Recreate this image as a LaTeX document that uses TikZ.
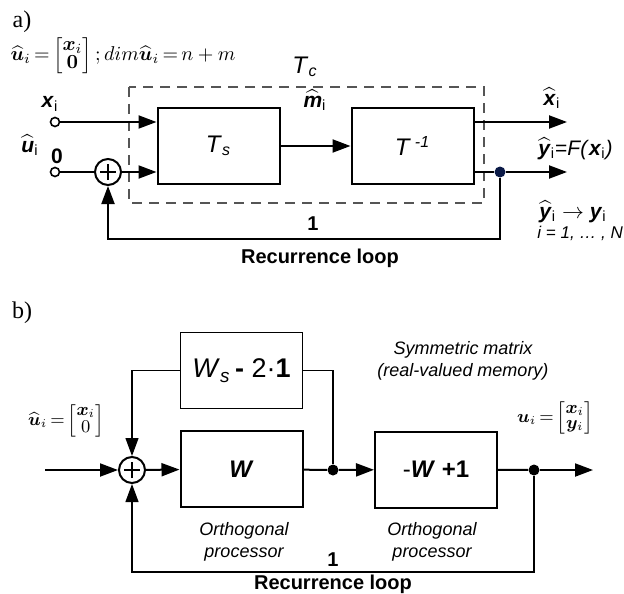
\documentclass[tikz,border=0pt]{standalone}
\usepackage{amsmath}
\usepackage{bm}
\usepackage[no-math]{fontspec}
\setmainfont{Liberation Sans}
\newfontfamily\captserif{Liberation Serif}
\usetikzlibrary{arrows.meta}
\definecolor{dotnavy}{RGB}{10,25,70}
\definecolor{dashgray}{RGB}{85,85,85}

\newcommand{\bvar}[1]{\textbf{\textit{#1}}}
\newcommand{\hvar}[1]{$\widehat{\text{\bvar{#1}}}$}

\tikzset{
    block/.style={draw, line width=1pt, inner sep=0pt,
        minimum width=61pt, minimum height=38pt,
        font=\fontsize{12}{14}\selectfont},
    sumnode/.style={circle, draw, line width=1pt, fill=white,
        minimum size=13pt, inner sep=0pt,
        path picture={
            \draw[line width=1.1pt]
                ([xshift=-4pt]path picture bounding box.center) --
                ([xshift=4pt]path picture bounding box.center)
                ([yshift=-4pt]path picture bounding box.center) --
                ([yshift=4pt]path picture bounding box.center);
        }},
    port/.style={circle, draw, line width=0.8pt, fill=white,
        minimum size=4.5pt, inner sep=0pt},
    junction/.style={circle, fill, minimum size=5.5pt, inner sep=0pt},
    wire/.style={line width=1pt},
    thinwire/.style={line width=0.6pt},
    arrow/.style={-{Triangle[length=9pt,width=6.5pt]}},
    varlbl/.style={font=\fontsize{10.5}{12}\selectfont, inner sep=0pt},
    formula/.style={inner sep=0pt,
        execute at begin node={\renewcommand{\arraystretch}{0.75}%
            \thickmuskip=3mu plus 1mu\arraycolsep=2pt}},
    note/.style={font=\fontsize{9}{11}\selectfont\itshape, align=center,
        inner sep=0pt},
    capt/.style={font=\captserif\fontsize{12}{14}\selectfont, inner sep=0pt}
}

\begin{document}
\begin{tikzpicture}[
    x=0.5pt,
    y=-0.5pt,
    line cap=butt,
    every node/.style={font=\fontsize{10}{12}\selectfont}
]
\useasboundingbox (0,0) rectangle (624,593);

% ---------------- a) ----------------
\node[capt] (capa) at (22,22) {a)};
\node[formula, font=\fontsize{10}{12}\selectfont] (uforma) at (123,56)
    {$\widehat{\bm u}_i = \begin{bmatrix}\bm x_i\\ \bm 0\end{bmatrix};
      dim\widehat{\bm u}_i = n+m$};

% Dashed frame of T_c
\draw[dashgray, line width=0.7pt, dash pattern=on 5pt off 3.5pt]
      (129,87) rectangle (484,203);
\node[varlbl, font=\fontsize{12}{14}\selectfont] (tc) at (305,67)
      {\textit{T}\textsubscript{\textit{c}}};

% Blocks
\node[block] (ts)   at (218.5,146) {\textit{T}\textsubscript{\textit{s}}};
\node[block] (tinv) at (412.5,146) {\textit{T}\,\textsuperscript{\textit{-1}}};

% Ports, summer and junction
\node[port]    (inx)    at (55,122)  {};
\node[port]    (inzero) at (55,172)  {};
\node[sumnode] (suma)   at (108,172) {};
\node[junction, fill=dotnavy] (dota) at (500,172) {};
\coordinate (outx) at (567,122);
\coordinate (outy) at (567,172);

% Connectors
\draw[wire,arrow] (inx) -- (inx -| ts.west);
\draw[wire] (inzero) -- (suma);
\draw[wire,arrow] (suma) -- (suma -| ts.west);
\draw[wire,arrow] (ts) -- (tinv);
\draw[wire,arrow] (tinv.east |- outx) -- (outx);
\draw[wire] (tinv.east |- dota) -- (dota);
\draw[wire,arrow] (dota) -- (outy);
\draw[wire,arrow] (dota) -- ++(0,67) -| (suma);

% Signal labels
\node[varlbl] (lxa)   at (50,104)  {\bvar{x}\textsubscript{i}};
\node[varlbl] (lua)   at (30,145)  {\hvar{u}\textsubscript{i}};
\node[varlbl] (lzero) at (57,156)  {\textbf{0}};
\node[varlbl] (lma)   at (315,100) {\hvar{m}\textsubscript{i}};
\node[varlbl] (lxo)   at (552,98)  {\hvar{x}\textsubscript{i}};
\node[varlbl, anchor=west] (lyo) at (538,149)
      {\hvar{y}\textsubscript{i}=\textit{F(}\bvar{x}\textsubscript{i}\textit{)}};
\node[varlbl, anchor=west] (lyy) at (539,212)
      {\hvar{y}\textsubscript{i} $\rightarrow$ \bvar{y}\textsubscript{i}};
\node[varlbl, anchor=west, font=\fontsize{8.5}{10}\selectfont\itshape] (lidx)
      at (537,233) {i = 1, … , N};

% Loop labels
\node[inner sep=0pt] (onea)  at (313,224) {\textbf{1}};
\node[inner sep=0pt] (loopa) at (320,258) {\textbf{Recurrence loop}};

% ---------------- b) ----------------
\node[capt] (capb) at (22,313) {b)};
\node[formula, font=\fontsize{8.8}{10}\selectfont] (uformb) at (66,421)
    {$\widehat{\bm u}_i = \begin{bmatrix}\bm x_i\\ 0\end{bmatrix}$};

% Blocks
\node[block, line width=0.9pt, font=\fontsize{13.5}{15}\selectfont] (ws)
      at (241.5,370.5) {\textit{W}\textsubscript{\textit{s}}\,\textbf{-} 2·\textbf{1}};
\node[block] (w)    at (241.5,469) {\bvar{W}};
\node[block] (wneg) at (436,469.5) {-\bvar{W} \textbf{+1}};

% Summer and junctions
\coordinate (inb) at (45,470);
\node[sumnode]  (sumb)  at (132,470) {};
\node[junction] (dotb)  at (333,470) {};
\node[junction] (dotc)  at (534,470) {};
\coordinate (outb) at (593,470);

% Connectors
\draw[wire,arrow] (inb) -- (sumb);
\draw[wire,arrow] (sumb) -- (w);
\draw[wire] (w) -- (dotb);
\draw[wire,arrow] (dotb) -- (wneg);
\draw[wire] (wneg) -- (dotc);
\draw[wire,arrow] (dotc) -- (outb);
\draw[thinwire,arrow] (ws) -| (sumb);
\draw[thinwire] (ws) -| (dotb);
\draw[thinwire,arrow] (dotc) -- ++(0,102) -| (sumb);

% Labels
\node[note] (symb) at (463,361) {Symmetric matrix\\(real-valued memory)};
\node[formula, font=\fontsize{9}{10}\selectfont] (uoutb) at (555,418)
    {$\bm u_i = \begin{bmatrix}\bm x_i\\ \bm y_i\end{bmatrix}$};
\foreach \nx/\px in {orthw/244,orthv/432}{
    \node[note] (\nx) at (\px,542) {Orthogonal\\processor};
}
\node[inner sep=0pt] (oneb)  at (333,560) {\textbf{1}};
\node[inner sep=0pt] (loopb) at (333,584) {\textbf{Recurrence loop}};

\end{tikzpicture}
\end{document}
